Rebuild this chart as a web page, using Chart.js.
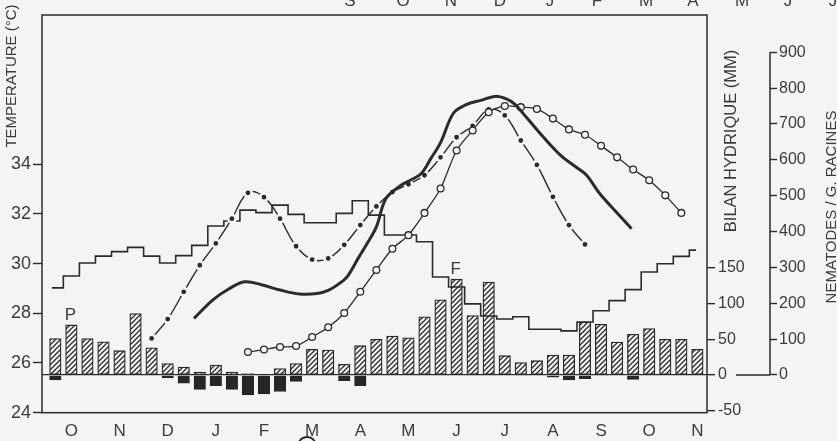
<!DOCTYPE html>
<html>
<head>
<meta charset="utf-8">
<script src="https://cdn.jsdelivr.net/npm/chart.js@4.4.1/dist/chart.umd.min.js"></script>
<style>
  html, body { margin: 0; padding: 0; background: #f4f4f2; }
  canvas { display: block; }
</style>
</head>
<body>
<canvas id="c" width="837" height="441"></canvas>
<script>
// Time runs in ten-day periods (décades): 0 = 1st décade of October,
// 40 = 2nd décade of November of the following year.
const monthLabels = ['O', 'N', 'D', 'J', 'F', 'M', 'A', 'M', 'J', 'J', 'A', 'S', 'O', 'N'];
const monthTickDecades = [1, 4, 7, 10, 13, 16, 19, 22, 25, 28, 31, 34, 37, 40];
const upperMonthLabels = ['S', 'O', 'N', 'D', 'J', 'F', 'M', 'A', 'M', 'J', 'J'];
const upperMonthX = [350, 403, 451, 500, 550, 597, 646, 693, 742, 788, 833];

const tempTicks = [24, 26, 28, 30, 32, 34];
const bilanTicks = [-50, 0, 50, 100, 150];
const nemaTicks = [0, 100, 200, 300, 400, 500, 600, 700, 800, 900];

// Water balance per décade (mm): surplus (hatched) and deficit (black)
const bilanSurplus = [51, 70, 51, 46.5, 34, 86, 38, 16, 11, 4, 14, 4, 2, 0, 9, 16, 36, 35, 15, 41,
  50, 54.5, 52, 81.5, 105, 134, 83, 130, 27, 17.5, 20, 28, 28, 74, 71, 46, 57, 65, 50, 50, 36];
const bilanDeficit = [-7, 0, 0, 0, 0, 0, 0, -4, -11.5, -20, -15, -20, -28, -26.5, -23, -9, 0, 0, -8, -15,
  0, 0, 0, 0, 0, 0, 0, 0, 0, 0, 0, -3, -7, -5, 0, 0, -6, 0, 0, 0, 0];

// Mean temperature per décade (°C), drawn as steps
const decadeTemp = [29.02, 29.50, 30.02, 30.30, 30.48, 30.65, 30.30, 30.02, 30.32, 30.73,
  31.51, 31.71, 32.15, 32.05, 32.35, 31.98, 31.64, 31.64, 32.02, 32.53,
  31.95, 31.15, 31.15, 30.88, 29.46, 29.06, 28.38, 27.89, 27.77, 27.86,
  27.36, 27.36, 27.29, 27.65, 28.10, 28.51, 28.95, 29.66, 29.99, 30.29, 30.54];
const tempStepStart = -0.22;
const tempStepEnd = 39.92;

// Nematodes per gram of roots
const nemaDashDotStart = 6;
const nemaDashDot = [102, 156, 232, 306, 367, 436, 508, 496, 436, 359, 322, 325, 363, 418,
  470, 510, 532, 557, 607, 663, 695, 741, 724, 654, 586, 497, 418, 364];

const nemaCircleStart = 12;
const nemaCircle = [64, 71, 78, 81, 106, 133, 173, 232, 293, 352, 390, 452, 520, 626,
  682, 733, 750, 747, 742, 715, 685, 670, 639, 607, 573, 543, 501, 452];

const nemaThickDecade = [8.64, 9.8, 10.8, 11.8, 12.9, 14.0, 15.2, 16.3, 17.0, 17.6, 18.2, 18.9, 19.5,
  20.0, 20.6, 21.5, 22.2, 22.8, 23.4, 24.0, 24.8, 25.6, 26.5, 27.4, 28.1, 28.6, 29.4, 30.4,
  31.5, 32.5, 33.1, 33.9, 35.0, 35.9];
const nemaThick = [158, 209, 240, 260, 251, 237, 226, 227, 236, 252, 275, 328, 372,
  413, 492, 528, 545, 562, 604, 648, 730, 754, 766, 777, 770, 756, 716, 664,
  612, 578, 557, 507, 452, 408];

// Annotations placed above a given décade bar
const barNotes = [{ text: 'P', decade: 1 }, { text: 'F', decade: 25 }];

const INK = '#2b2b2b';
const TEXT = '#3c3c3c';
const BG = '#f4f4f2';
const FONT = "'Liberation Sans', Arial, sans-serif";

function makeHatch(ctx) {
  const s = 5;
  const c = document.createElement('canvas');
  c.width = s; c.height = s;
  const g = c.getContext('2d');
  g.fillStyle = BG;
  g.fillRect(0, 0, s, s);
  g.strokeStyle = INK;
  g.lineWidth = 1.3;
  g.beginPath();
  g.moveTo(-1, s + 1); g.lineTo(s + 1, -1);
  g.moveTo(-1, 1); g.lineTo(1, -1);
  g.moveTo(s - 1, s + 1); g.lineTo(s + 1, s - 1);
  g.stroke();
  return ctx.createPattern(c, 'repeat');
}

const canvas = document.getElementById('c');
const ctx = canvas.getContext('2d');
const hatch = makeHatch(ctx);

const tempSteps = decadeTemp.map((t, i) => ({ x: i === 0 ? tempStepStart : i - 0.5, y: t }));
tempSteps.push({ x: tempStepEnd, y: decadeTemp[decadeTemp.length - 1] });

const decor = {
  id: 'decor',
  beforeDraw(chart) {
    const c = chart.ctx;
    c.save();
    c.fillStyle = BG;
    c.fillRect(0, 0, chart.width, chart.height);
    c.restore();
  },
  afterDraw(chart) {
    const c = chart.ctx, a = chart.chartArea, s = chart.scales;
    c.save();
    c.strokeStyle = INK;
    c.lineWidth = 1.5;
    c.strokeRect(a.left, a.top, a.right - a.left, a.bottom - a.top);

    // nematode axis spans 0..900 only
    const xN = s.yn.left;
    c.beginPath();
    c.moveTo(xN, s.yn.getPixelForValue(0));
    c.lineTo(xN, s.yn.getPixelForValue(900));
    c.stroke();
    const y0 = s.yb.getPixelForValue(0);
    c.beginPath();
    c.moveTo(xN - 34, y0);
    c.lineTo(xN, y0);
    c.stroke();

    // axis titles
    c.fillStyle = TEXT;
    c.textAlign = 'center';
    c.textBaseline = 'middle';
    const vText = (txt, x, y, size) => {
      c.save();
      c.translate(x, y);
      c.rotate(-Math.PI / 2);
      c.font = size + 'px ' + FONT;
      c.fillText(txt, 0, 0);
      c.restore();
    };
    vText('TEMPERATURE (°C)', 12, 76, 15);
    vText('BILAN HYDRIQUE (MM)', 731, 141, 16.5);
    vText('NEMATODES / G. RACINES', 832, 207, 15);

    // month row of the adjoining panel, cut by the page edge
    c.font = '17px ' + FONT;
    c.textBaseline = 'alphabetic';
    upperMonthLabels.forEach((m, k) => c.fillText(m, upperMonthX[k], 5.5));

    // notes above bars
    barNotes.forEach(n => {
      const x = s.x.getPixelForValue(n.decade);
      const y = s.yb.getPixelForValue(bilanSurplus[n.decade]);
      c.fillText(n.text, x - 1, y - 5);
    });

    // edge of a circled mark at the foot of the page
    c.lineWidth = 2;
    c.beginPath();
    c.arc(307, 446, 9, Math.PI * 1.15, Math.PI * 1.85);
    c.stroke();
    c.restore();
  }
};

const fixWidth = w => s => { s.width = w; };
const setTicks = list => s => { s.ticks = list.map(v => ({ value: v })); };

new Chart(ctx, {
  type: 'line',
  data: {
    datasets: [
      {
        label: 'thick',
        yAxisID: 'yn',
        data: nemaThickDecade.map((d, k) => ({ x: d, y: nemaThick[k] })),
        borderColor: INK,
        borderWidth: 3,
        pointRadius: 0,
        tension: 0.35,
        fill: false
      },
      {
        label: 'circles',
        yAxisID: 'yn',
        data: nemaCircle.map((v, k) => ({ x: nemaCircleStart + k, y: v })),
        borderColor: INK,
        borderWidth: 1.3,
        pointRadius: 3.4,
        pointBackgroundColor: BG,
        pointBorderColor: INK,
        pointBorderWidth: 1.3,
        tension: 0.3,
        fill: false
      },
      {
        label: 'dashdot',
        yAxisID: 'yn',
        data: nemaDashDot.map((v, k) => ({ x: nemaDashDotStart + k, y: v })),
        borderColor: INK,
        borderWidth: 1.4,
        pointRadius: 3.7,
        pointBackgroundColor: INK,
        pointBorderColor: BG,
        pointBorderWidth: 2.6,
        tension: 0.4,
        fill: false
      },
      {
        label: 'temperature',
        yAxisID: 'y',
        data: tempSteps,
        stepped: true,
        borderColor: INK,
        borderWidth: 1.6,
        pointRadius: 0,
        fill: false
      },
      {
        type: 'bar',
        label: 'surplus',
        yAxisID: 'yb',
        data: bilanSurplus.map((v, i) => ({ x: i, y: v })).filter(p => p.y > 0),
        backgroundColor: hatch,
        borderColor: INK,
        borderWidth: 1.3,
        borderSkipped: false,
        barThickness: 11.5,
        grouped: false
      },
      {
        type: 'bar',
        label: 'deficit',
        yAxisID: 'yb',
        data: bilanDeficit.map((v, i) => ({ x: i, y: v })).filter(p => p.y < 0),
        backgroundColor: '#262626',
        borderColor: '#262626',
        borderWidth: 1,
        barThickness: 11.5,
        grouped: false
      }
    ]
  },
  options: {
    responsive: false,
    animation: false,
    events: [],
    layout: { padding: { top: 15, left: 0, right: 0, bottom: 0 } },
    plugins: { legend: { display: false }, tooltip: { enabled: false } },
    scales: {
      x: {
        type: 'linear',
        position: 'bottom',
        min: -0.83,
        max: 40.6,
        offset: false,
        afterBuildTicks: setTicks(monthTickDecades),
        afterFit: s => { s.height = 28.3; },
        ticks: {
          autoSkip: false,
          maxRotation: 0,
          padding: 8,
          color: TEXT,
          font: { family: FONT, size: 17 },
          callback: v => monthLabels[monthTickDecades.indexOf(v)]
        },
        grid: { display: false, drawTicks: false },
        border: { display: false }
      },
      y: {
        type: 'linear',
        position: 'left',
        min: 24,
        max: 40,
        afterBuildTicks: setTicks(tempTicks),
        afterFit: fixWidth(42),
        ticks: { autoSkip: false, padding: 2, color: TEXT, font: { family: FONT, size: 18 } },
        grid: { display: true, drawOnChartArea: false, drawTicks: true, tickLength: 9, tickColor: INK, tickWidth: 1.4 },
        border: { display: false }
      },
      yb: {
        type: 'linear',
        position: 'right',
        weight: 0,
        min: -52.7,
        max: 503.3,
        afterBuildTicks: setTicks(bilanTicks),
        afterFit: fixWidth(63),
        ticks: { autoSkip: false, padding: 3, color: TEXT, font: { family: FONT, size: 16 } },
        grid: {
          display: true,
          drawOnChartArea: true,
          drawTicks: true,
          tickLength: 8,
          lineWidth: 1.3,
          tickWidth: 1.4,
          tickColor: INK,
          color: c => (c.tick && c.tick.value === 0) ? INK : 'rgba(0,0,0,0)'
        },
        border: { display: false }
      },
      yn: {
        type: 'linear',
        position: 'right',
        weight: 1,
        min: -105.2,
        max: 1004,
        afterBuildTicks: setTicks(nemaTicks),
        afterFit: fixWidth(67),
        ticks: { autoSkip: false, padding: 2, color: TEXT, font: { family: FONT, size: 16 } },
        grid: { display: true, drawOnChartArea: false, drawTicks: true, tickLength: 7, tickColor: INK, tickWidth: 1.4 },
        border: { display: false }
      }
    }
  },
  plugins: [decor]
});
</script>
</body>
</html>
